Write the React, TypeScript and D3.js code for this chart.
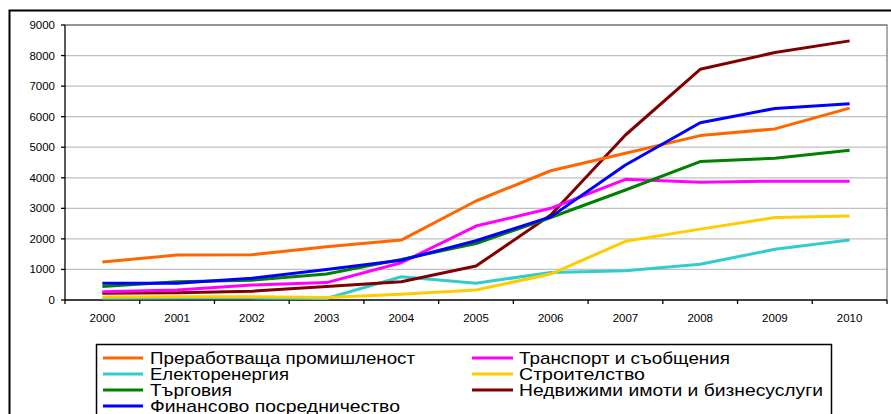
import React from 'react'
import * as d3 from 'd3'

// years on the category axis
const years = ['2000', '2001', '2002', '2003', '2004', '2005', '2006', '2007', '2008', '2009', '2010']
const yTicks = [0, 1000, 2000, 3000, 4000, 5000, 6000, 7000, 8000, 9000]

const manufacturing = [1240, 1470, 1480, 1740, 1960, 3240, 4230, 4800, 5380, 5600, 6280]
const energy = [60, 70, 70, 50, 760, 550, 900, 960, 1170, 1660, 1960]
const trade = [440, 600, 650, 850, 1330, 1850, 2700, 3600, 4530, 4640, 4900]
const finance = [550, 550, 710, 1000, 1300, 1940, 2720, 4420, 5800, 6270, 6420]
const transport = [270, 330, 490, 570, 1220, 2420, 3000, 3950, 3850, 3890, 3890]
const construction = [100, 110, 110, 80, 185, 330, 850, 1920, 2320, 2700, 2750]
const realEstate = [220, 240, 290, 440, 600, 1110, 2780, 5400, 7550, 8100, 8480]

const series = [
  { name: 'Преработваща промишленост', values: manufacturing, color: '#ff6600', textW: 265 },
  { name: 'Електоренергия', values: energy, color: '#33cccc', textW: 139 },
  { name: 'Търговия', values: trade, color: '#008000', textW: 82 },
  { name: 'Финансово посредничество', values: finance, color: '#0000ff', textW: 250 },
  { name: 'Транспорт и съобщения', values: transport, color: '#ff00ff', textW: 211 },
  { name: 'Строителство', values: construction, color: '#ffcc00', textW: 126 },
  { name: 'Недвижими имоти и бизнесуслуги', values: realEstate, color: '#800000', textW: 304 },
]

// drawing order (front-most last)
const drawOrder = [1, 5, 6, 4, 2, 0, 3]

export default function App() {
  const W = 891, H = 414
  const left = 65, right = 887, top = 25, bottom = 300

  const x = d3.scaleBand().domain(years).range([left, right])
  const y = d3.scaleLinear().domain([0, 9000]).range([bottom, top])

  const line = d3.line<number>()
    .x((_, i) => (x(years[i]) as number) + x.bandwidth() / 2)
    .y(d => y(d))

  const boundaries = d3.range(years.length + 1).map(i => left + i * x.bandwidth())

  // legend layout: first 4 entries in column 1, the rest in column 2
  const legendRows = [364, 380, 396, 412]
  const legendCols = [{ lx1: 103, lx2: 143, tx: 150 }, { lx1: 472, lx2: 513, tx: 519 }]

  return (
    <div style={{ position: 'fixed', left: 0, top: 0 }}>
      <svg width={W} height={H} style={{ display: 'block', background: '#fff' }}>
        {/* outer frame of the document box */}
        <path d={`M9.5,${H + 5}V10.5H${W + 5}`} fill="none" stroke="#000" strokeWidth={2} />

        {/* gridlines */}
        {yTicks.filter(t => t > 0).map(t => (
          <line key={t} x1={left} x2={right} y1={y(t)} y2={y(t)} stroke="#c0c0c0" strokeWidth={1.3} />
        ))}
        {/* plot border top & right */}
        <path d={`M${left},${top}H${right}V${bottom}`} fill="none" stroke="#808080" strokeWidth={1.3} />

        {/* y axis */}
        <line x1={left} x2={left} y1={top} y2={bottom} stroke="#000" strokeWidth={1.3} />
        {yTicks.map(t => (
          <g key={t}>
            <line x1={left - 4} x2={left} y1={y(t)} y2={y(t)} stroke="#000" strokeWidth={1.3} />
            <text x={55} y={y(t) + 4} textAnchor="end" fontFamily="Liberation Sans, Arial, sans-serif" fontSize={11.5} fill="#000">{t}</text>
          </g>
        ))}

        {/* x axis */}
        <line x1={left} x2={right} y1={bottom} y2={bottom} stroke="#000" strokeWidth={1.3} />
        {boundaries.map((b, i) => (
          <line key={i} x1={b} x2={b} y1={bottom} y2={bottom + 4} stroke="#000" strokeWidth={1.3} />
        ))}
        {years.map(yr => (
          <text key={yr} x={(x(yr) as number) + x.bandwidth() / 2} y={322} textAnchor="middle" fontFamily="Liberation Sans, Arial, sans-serif" fontSize={11.5} fill="#000">{yr}</text>
        ))}

        {/* series */}
        {drawOrder.map(i => (
          <path key={i} d={line(series[i].values) as string} fill="none" stroke={series[i].color} strokeWidth={3} strokeLinejoin="round" />
        ))}

        {/* legend */}
        <rect x={96.5} y={344.5} width={735} height={75} fill="#fff" stroke="#000" strokeWidth={1.5} />
        {series.map((s, i) => {
          const col = legendCols[i < 4 ? 0 : 1]
          const by = legendRows[i < 4 ? i : i - 4]
          return (
            <g key={s.name}>
              <line x1={col.lx1} x2={col.lx2} y1={by - 6} y2={by - 6} stroke={s.color} strokeWidth={3} />
              <text x={col.tx} y={by} fontFamily="Liberation Sans, Arial, sans-serif" fontSize={17} fill="#000"
                textLength={s.textW} lengthAdjust="spacingAndGlyphs">{s.name}</text>
            </g>
          )
        })}
      </svg>
    </div>
  )
}
